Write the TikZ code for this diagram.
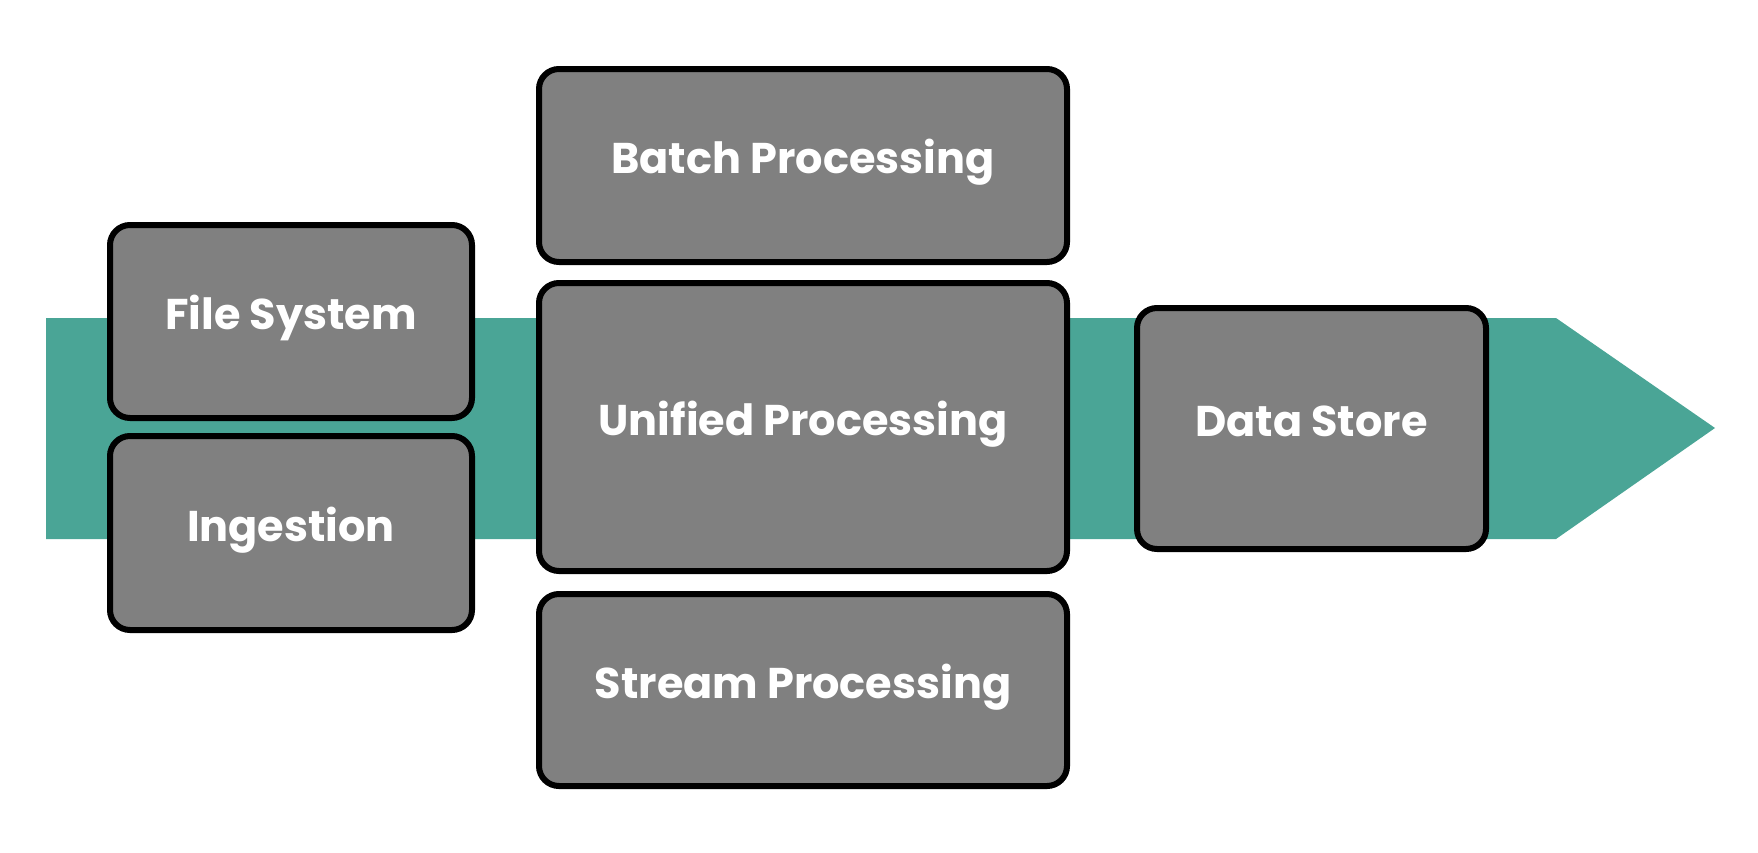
\documentclass[tikz,border=0pt]{standalone}
\usepackage{fontspec}
\setsansfont{Poppins}
\definecolor{bandteal}{RGB}{74,165,150}
\definecolor{boxgray}{RGB}{128,128,128}
\tikzset{
  stagebox/.style={draw=black, fill=boxgray, line width=6pt, rounded corners=20pt,
    text=white, font=\sffamily\bfseries\fontsize{43}{51}\selectfont, inner sep=0pt,
    text height=30pt, text depth=14pt}
}
\begin{document}
\begin{tikzpicture}[x=1pt, y=-1pt]
    \useasboundingbox (0,0) rectangle (1758,852);
    % teal arrow behind the boxes
    \fill[bandteal] (46,318) -- (1556,318) -- (1715,428) -- (1556,539) -- (46,539) -- cycle;

    \node[stagebox, minimum width=362pt, minimum height=193pt] (fs) at (291,321.5) {File System};
    \node[stagebox, minimum width=362pt, minimum height=194pt] (ingest) at (291,533) {Ingestion};

    \node[stagebox, minimum width=528pt, minimum height=193pt] (batch) at (803,165.5) {Batch Processing};
    \node[stagebox, minimum width=528pt, minimum height=288pt] (unified) at (803,427) {Unified Processing};
    \node[stagebox, minimum width=528pt, minimum height=192pt] (stream) at (803,690) {Stream Processing};

    \node[stagebox, minimum width=349pt, minimum height=241pt] (store) at (1311.5,428.5) {Data Store};
  \end{tikzpicture}
\end{document}
